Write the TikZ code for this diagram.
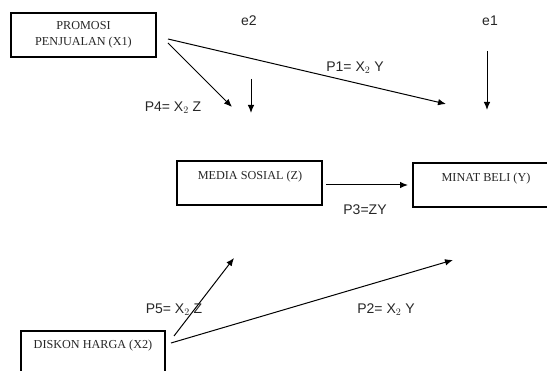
\documentclass[tikz,border=0pt]{standalone}
\usepackage{fontspec}
\setmainfont{Liberation Serif}
\setsansfont{Liberation Sans}
\usetikzlibrary{arrows.meta}
\begin{document}
\begin{tikzpicture}[x=1pt,y=-1pt,
  boxv/.style={draw, line width=2.2pt, inner sep=0pt},
  boxtext/.style={font=\fontsize{12.2}{16}\selectfont\rmfamily, align=center, inner sep=0pt, text=black!85},
  lbl/.style={font=\fontsize{14}{16}\selectfont\sffamily, inner sep=0pt, text=black!85},
  arr/.style={line width=1pt, -{Latex[length=8pt,width=6.5pt]}}]
\useasboundingbox (0,0) rectangle (547,371);
\clip (0,0) rectangle (547,371);
% boxes
\node[boxv, minimum width=145pt, minimum height=44pt] (x1) at (83.5,35) {};
\node[boxtext] at (83.5,35) {PROMOSI\\PENJUALAN (X1)};
\node[boxv, minimum width=145pt, minimum height=44pt] (z) at (249.5,183) {};
\node[boxtext] (zt) at (250,177) {MEDIA SOSIAL (Z)};
\node[boxv, minimum width=146pt, minimum height=44pt] (y) at (486,185) {};
\node[boxtext] (yt) at (486,179) {MINAT BELI (Y)};
\node[boxv, minimum width=144pt, minimum height=44pt] (x2) at (93,353) {};
\node[boxtext] (x2t) at (93,346) {DISKON HARGA (X2)};
% error terms
\node[lbl] (e2) at (249,21) {e2};
\node[lbl] (e1) at (490,21) {e1};
% endpoints
\coordinate (a1s) at (168,43);  \coordinate (a1e) at (232,107);
\coordinate (e2s) at (251,79);  \coordinate (e2e) at (251,113);
\coordinate (p1s) at (168,39);  \coordinate (p1e) at (446,104);
\coordinate (e1s) at (487,51);  \coordinate (e1e) at (487,110);
\coordinate (p3s) at (326,185); \coordinate (p3e) at (408,185);
\coordinate (p5s) at (174,336); \coordinate (p5e) at (234,258);
\coordinate (p2s) at (171,343); \coordinate (p2e) at (453,260);
% arrows
\draw[arr] (a1s) -- (a1e);
\draw[arr] (e2s) -- (e2e);
\draw[arr] (p1s) -- (p1e);
\draw[arr] (e1s) -- (e1e);
\draw[arr] (p3s) -- (p3e);
\draw[arr] (p5s) -- (p5e);
\draw[arr] (p2s) -- (p2e);
% labels
\node[lbl] (p4) at (173,108) {P4= X$_2$ Z};
\node[lbl] (p1) at (355,68) {P1= X$_2$ Y};
\node[lbl] (p3) at (365,210) {P3=ZY};
\node[lbl] (p5) at (174,310) {P5= X$_2$ Z};
\node[lbl] (p2) at (386,310) {P2= X$_2$ Y};
\end{tikzpicture}
\end{document}
